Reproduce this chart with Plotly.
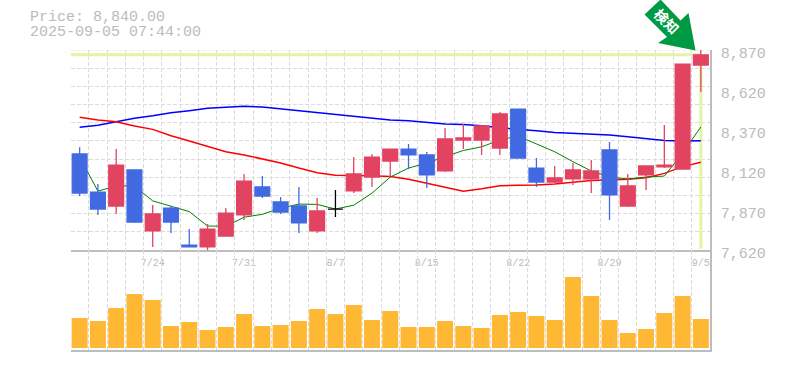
import plotly.graph_objects as go

W, H = 785, 370
dates = ["7/17","7/18","7/22","7/23","7/24","7/25","7/28","7/29","7/30","7/31","8/1","8/4","8/5","8/6","8/7","8/8","8/12","8/13","8/14","8/15","8/18","8/19","8/20","8/21","8/22","8/25","8/26","8/27","8/28","8/29","9/1","9/2","9/3","9/4","9/5"]
label_idx = [4, 9, 14, 19, 24, 29, 34]

opens  = [8220,7982,7895,8120,7739,7882,7651,7639,7707,7839,8014,7920,7895,7739,7876,7989,8076,8176,8251,8214,8114,8307,8307,8257,8501,8132,8045,8064,8064,8245,7895,8089,8139,8126,8776]
highs  = [8262,8032,8251,8120,7901,7895,7751,7782,7882,8095,8082,7951,8014,7945,7995,8201,8220,8251,8282,8232,8382,8407,8401,8482,8501,8195,8145,8164,8182,8295,8095,8145,8401,8782,8870]
lows   = [7957,7839,7845,7789,7639,7726,7639,7617,7707,7807,7945,7845,7726,7726,7826,7976,8014,8076,8126,8007,8107,8251,8214,8214,8195,8014,8039,8026,7976,7807,7889,7995,8132,8126,8607]
closes = [7976,7876,8151,7795,7845,7795,7639,7751,7851,8051,7957,7857,7789,7864,7876,8095,8201,8251,8214,8089,8314,8320,8395,8470,8195,8045,8070,8120,8114,7964,8020,8145,8151,8782,8840]

ma_short = [8200,7988,8020,8020,7927,7895,7860,7770,7768,7825,7843,7882,7907,7905,7876,7900,7975,8076,8132,8164,8202,8242,8265,8307,8332,8282,8234,8172,8114,8076,8064,8076,8082,8226,8389]
ma_mid   = [8449,8432,8422,8395,8374,8334,8301,8266,8234,8214,8191,8164,8132,8103,8087,8087,8084,8080,8062,8037,8012,7987,8003,8022,8025,8026,8032,8041,8054,8057,8062,8072,8099,8141,8168]
ma_long  = [8387,8399,8422,8443,8459,8478,8491,8506,8512,8518,8514,8502,8491,8478,8464,8453,8443,8432,8428,8418,8407,8405,8397,8384,8376,8365,8355,8351,8345,8339,8328,8318,8305,8301,8303]
volumes = [300,270,400,540,480,220,260,180,210,340,220,230,270,390,340,430,280,370,210,210,270,220,200,330,360,320,280,710,520,280,150,190,350,520,290]

price_now = 8840
price_floor = 7628
y_ticks = [8870, 8620, 8370, 8120, 7870, 7620]
y_grid = [7620 + 1250 / 11 * k for k in range(12)]
x_grid = [k - 0.5 for k in range(len(dates) + 1)]

RED, BLUE = "#e24361", "#4169e1"
AXIS, GRID, TXT = "#bdbdbd", "#dcdcdc", "#bbbbbb"
MONO = "Liberation Mono, monospace"

def px_x(x): return x / W
def px_y(y): return 1 - y / H

def subset(cond):
    ids = [i for i in range(len(dates)) if cond(opens[i], closes[i])]
    return dict(x=ids, open=[opens[i] for i in ids], high=[highs[i] for i in ids],
                low=[lows[i] for i in ids], close=[closes[i] for i in ids])

def candle(cond, color):
    # candles sit on an overlaying y axis so they are drawn above the lines
    return go.Candlestick(**subset(cond), whiskerwidth=0, line_width=1.3,
                          increasing=dict(line_color=color, fillcolor=color),
                          decreasing=dict(line_color=color, fillcolor=color),
                          xaxis="x", yaxis="y3", showlegend=False, hoverinfo="skip")

idx = list(range(len(dates)))
fig = go.Figure()
fig.add_trace(go.Scatter(x=[-0.5, len(dates) - 1], y=[price_now, price_now], mode="lines",
                         line=dict(color="#e2f5a4", width=3), xaxis="x", yaxis="y", hoverinfo="skip"))
fig.add_trace(go.Scatter(x=[len(dates) - 1] * 2, y=[price_now, price_floor], mode="lines",
                         line=dict(color="#e2f5a4", width=3), xaxis="x", yaxis="y", hoverinfo="skip"))
for vals, col, wd in ((ma_long, "#0000ff", 1.5), (ma_mid, "#ff0000", 1.5), (ma_short, "#008000", 1)):
    fig.add_trace(go.Scatter(x=idx, y=vals, mode="lines", line=dict(color=col, width=wd, shape="linear"),
                             xaxis="x", yaxis="y", hoverinfo="skip"))
fig.add_trace(candle(lambda o, c: c > o, RED))
fig.add_trace(candle(lambda o, c: c < o, BLUE))
fig.add_trace(candle(lambda o, c: c == o, "#000000"))
fig.add_trace(go.Bar(x=idx, y=volumes, marker=dict(color="#ffb833", line_width=0),
                     xaxis="x2", yaxis="y2", hoverinfo="skip"))

x_common = dict(range=[-0.5, 34.5], showgrid=False, showline=True, linecolor=AXIS, linewidth=1.5,
                ticks="", zeroline=False,
                minor=dict(tickmode="array", tickvals=x_grid, showgrid=True, gridcolor=GRID,
                           griddash="4px,2px", gridwidth=1, ticks=""),
                domain=[px_x(70.5), px_x(710)])

fig.update_layout(
    width=W, height=H, margin=dict(l=0, r=0, t=0, b=0, pad=0, autoexpand=False),
    paper_bgcolor="white", plot_bgcolor="white", showlegend=False,
    boxgap=0.19, boxgroupgap=0, bargap=0.125,
    xaxis=dict(**x_common, anchor="y", rangeslider=dict(visible=False), tickmode="array",
               tickvals=label_idx, ticktext=[dates[i] for i in label_idx],
               tickfont=dict(family=MONO, size=10, color=TXT), ticklabelstandoff=2),
    xaxis2=dict(**x_common, anchor="y2", tickmode="array", tickvals=label_idx, showticklabels=False),
    yaxis=dict(domain=[px_y(250), px_y(50)], range=[7620, 8870], anchor="x", side="right",
               showgrid=False, showline=True, linecolor=AXIS, linewidth=1.5, zeroline=False, ticks="",
               tickmode="array", tickvals=y_ticks, tickformat=",",
               tickfont=dict(family=MONO, size=15, color=TXT), ticklabelstandoff=6, ticklabelshift=3,
               minor=dict(tickmode="array", tickvals=y_grid, showgrid=True, gridcolor=GRID,
                          griddash="4px,2px", gridwidth=1, ticks="")),
    yaxis3=dict(overlaying="y", range=[7620, 8870], anchor="x", side="right", visible=False,
                showgrid=False, zeroline=False),
    yaxis2=dict(domain=[px_y(350), px_y(250)], range=[-20, 980], anchor="x2", side="right",
                showgrid=False, showline=True, linecolor=AXIS, linewidth=1.5, zeroline=False,
                ticks="", showticklabels=False),
    shapes=[
        dict(type="line", xref="paper", yref="y", x0=px_x(70.5), x1=px_x(710), y0=8870, y1=8870,
             line=dict(color=GRID, width=1, dash="4px,2px"), layer="below"),
        dict(type="path", xref="paper", yref="paper", fillcolor="#009944", line_width=0,
             path="M {} {} ".format(px_x(660), px_y(0)) + " ".join(
                 "L {} {}".format(px_x(a), px_y(b)) for a, b in
                 [(644.5, 14.5), (667, 37), (658, 43), (695.5, 50.5), (688.5, 13), (680.5, 20.5), (661, 0)]) + " Z"),
    ],
    annotations=[
        dict(xref="paper", yref="paper", x=px_x(27.5), y=px_y(18), xanchor="left", yanchor="middle",
             text="Price: 8,840.00", showarrow=False, font=dict(family=MONO, size=15, color=TXT)),
        dict(xref="paper", yref="paper", x=px_x(27.5), y=px_y(32.5), xanchor="left", yanchor="middle",
             text="2025-09-05 07:44:00", showarrow=False, font=dict(family=MONO, size=15, color=TXT)),
        dict(xref="paper", yref="paper", x=px_x(667), y=px_y(21), xanchor="center", yanchor="middle",
             text="<b>検知</b>", textangle=45, showarrow=False,
             font=dict(family="Noto Sans CJK JP", size=14, color="white")),
    ],
)
fig.write_html("out.html", config={"displayModeBar": False},
               post_script="document.body.style.margin='0';document.documentElement.style.overflow='hidden';")
